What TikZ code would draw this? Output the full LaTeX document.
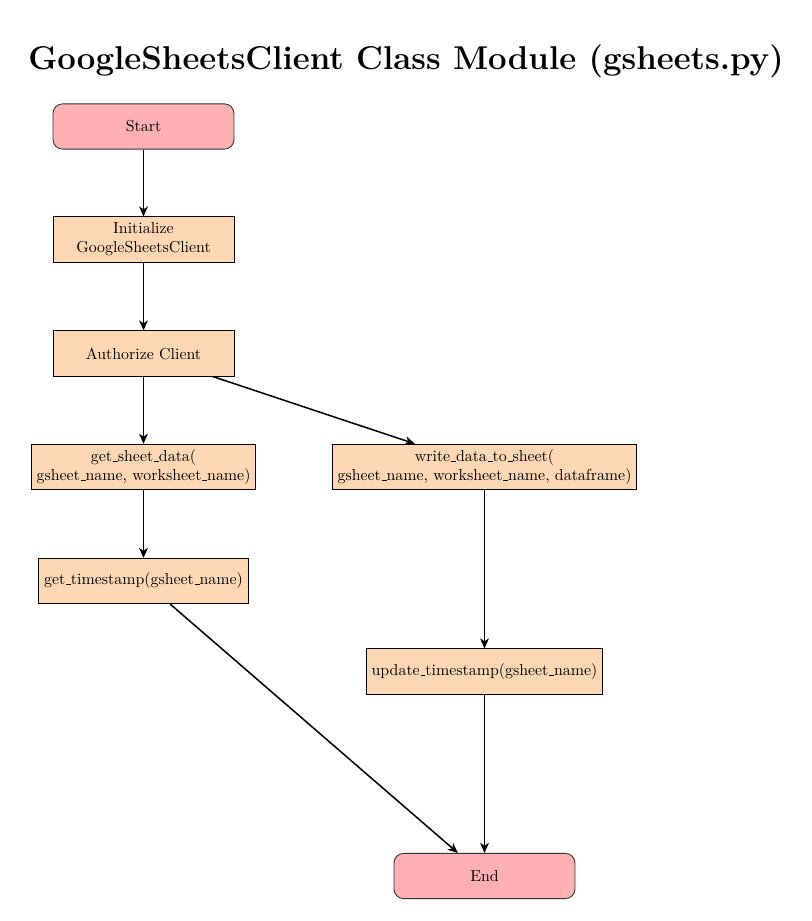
\documentclass[tikz,border=0pt]{standalone}
\usetikzlibrary{arrows.meta}
\definecolor{startcol}{RGB}{255,176,180}
\definecolor{proccol}{RGB}{254,216,181}
\newcommand{\usc}{\leavevmode\kern.06em\vbox{\hrule width.3em}}
\begin{document}
\begin{tikzpicture}[x=0.629pt,y=-0.629pt,
  startstop/.style={rectangle, rounded corners=6pt, draw=black!80, line width=0.55pt, fill=startcol,
    minimum width=4cm, minimum height=1cm, align=center, font=\normalsize},
  process/.style={rectangle, draw=black, line width=0.55pt, fill=proccol,
    minimum width=4cm, minimum height=1cm, align=center, font=\normalsize},
  arrow/.style={line width=0.95pt, -{Stealth[length=6.3pt,width=5.5pt,inset=1.8pt]}}]
\useasboundingbox (0,0) rectangle (811,921);
\node[font=\huge\bfseries] (title) at (406,61) {GoogleSheetsClient Class Module (gsheets.py)};
\node[startstop] (start) at (143.5,126.5) {Start};
\node[process] (init) at (143.5,239.5) {Initialize\\GoogleSheetsClient};
\node[process] (auth) at (143.5,353.5) {Authorize Client};
\node[process] (getdata) at (143.5,467) {get\usc sheet\usc data(\\gsheet\usc name, worksheet\usc name)};
\node[process] (write) at (484.5,467) {write\usc data\usc to\usc sheet(\\gsheet\usc name, worksheet\usc name, dataframe)};
\node[process] (getts) at (143.5,581) {get\usc timestamp(gsheet\usc name)};
\node[process] (updts) at (484.5,671.5) {update\usc timestamp(gsheet\usc name)};
\node[startstop] (end) at (484.5,876) {End};
\draw[arrow] (start) -- (init);
\draw[arrow] (init) -- (auth);
\draw[arrow] (auth) -- (getdata);
\draw[arrow] (auth) -- (write);
\draw[arrow] (getdata) -- (getts);
\draw[arrow] (getts) -- (end);
\draw[arrow] (write) -- (updts);
\draw[arrow] (updts) -- (end);
\end{tikzpicture}
\end{document}
